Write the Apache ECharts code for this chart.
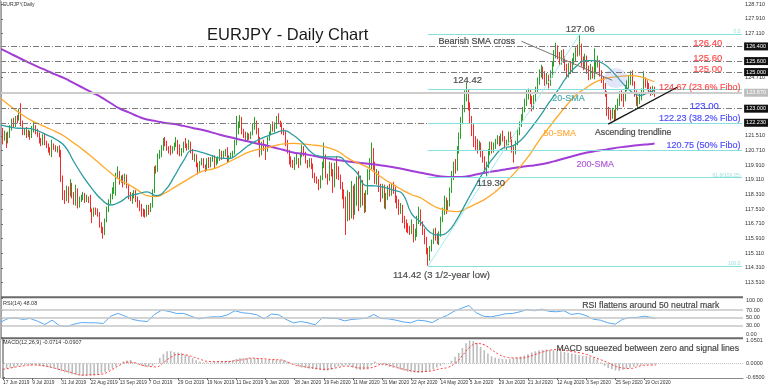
<!DOCTYPE html>
<html><head><meta charset="utf-8">
<script src="https://cdn.jsdelivr.net/npm/echarts@6/dist/echarts.min.js"></script>
<style>html,body{margin:0;padding:0;background:#fff}#c{width:768px;height:389px}</style>
</head><body><div id="c"></div>
<script>
// ================= DATA =================
// daily bars, index 0 = 17 Jun 2019 ; rows are [open, close, low, high]
const candles = [
[121.85,121.75,121.55,122.05],[121.75,121.40,121.05,121.95],[121.40,121.55,121.25,121.80],[121.55,121.20,120.85,121.70],[121.20,121.50,121.10,121.75],
[121.50,121.95,121.40,122.10],[121.95,122.30,121.80,122.45],[122.30,122.15,121.95,122.50],[122.15,122.45,122.00,122.60],[122.45,122.35,122.20,122.65],
[122.45,122.85,122.35,123.00],[122.85,122.20,122.05,123.30],[122.20,121.70,121.55,122.35],[121.70,121.85,121.55,121.95],[121.85,121.60,121.40,122.00],
[121.60,121.70,121.45,121.85],[121.70,121.45,121.30,121.80],[121.45,121.80,121.40,122.05],[121.80,121.95,121.70,122.30],[121.95,121.75,121.60,122.10],
[121.75,121.55,121.45,121.90],[121.55,121.25,121.10,121.70],[121.25,121.10,120.95,121.40],[121.10,121.45,121.00,121.60],[121.45,121.15,121.00,121.65],
[121.15,121.00,120.85,121.25],[121.00,120.75,120.60,121.10],[120.75,120.55,120.45,120.90],[120.55,120.95,120.35,121.30],[120.95,120.90,120.75,121.10],
[120.90,120.75,120.65,121.00],[120.75,120.80,120.60,120.95],[120.80,120.60,120.35,121.00],[120.60,119.20,119.00,120.75],[119.20,118.40,118.00,119.35],
[118.40,118.10,117.80,118.55],[118.10,118.55,117.95,118.80],[118.55,118.30,117.85,118.75],[118.30,118.85,118.20,119.15],[118.85,118.35,118.10,118.95],
[118.35,117.95,117.75,118.45],[117.95,118.55,117.70,118.85],[118.55,117.80,117.55,118.65],[117.80,118.00,117.60,118.20],[118.00,118.10,117.90,118.30],
[118.10,118.30,118.00,118.45],[118.30,118.00,117.85,118.40],[118.00,118.10,117.90,118.30],[118.10,118.05,117.85,118.20],[118.05,117.55,117.35,118.30],
[117.55,117.25,116.75,117.55],[117.25,117.45,117.10,117.60],[117.45,117.40,117.20,117.60],[117.40,117.25,117.10,117.55],[117.25,116.70,116.50,117.35],
[116.70,116.40,116.20,116.80],[116.40,116.25,115.90,116.55],[116.25,116.90,116.10,117.00],[116.90,117.50,116.80,117.65],[117.50,117.90,117.35,118.05],
[117.90,118.20,117.80,118.35],[118.20,118.55,118.05,118.70],[118.55,118.80,118.35,119.00],[118.80,119.35,118.25,119.50],[119.35,119.50,119.20,119.85],
[119.50,119.00,118.85,119.60],[119.00,119.20,118.95,119.35],[119.20,118.95,118.70,119.40],[118.95,119.30,118.85,119.45],[119.30,118.80,118.65,119.40],
[118.80,118.25,118.05,118.90],[118.25,118.10,117.95,118.45],[118.10,118.25,117.80,118.40],[118.25,118.40,118.10,118.55],[118.40,118.10,117.90,118.55],
[118.10,117.80,117.60,118.20],[117.80,117.60,117.40,118.00],[117.60,117.35,117.10,117.80],[117.35,117.30,117.10,117.55],[117.30,117.20,117.05,117.50],
[117.20,117.60,117.10,117.75],[117.60,117.45,117.20,117.75],[117.45,117.70,117.35,117.85],[117.70,118.50,117.60,118.60],[118.50,119.75,118.40,119.85],
[119.75,119.60,119.45,119.90],[119.60,120.40,119.55,120.55],[120.40,120.55,120.25,120.75],[120.55,120.85,120.35,121.00],[120.85,121.25,120.70,121.40],
[121.25,121.10,120.95,121.45],[121.10,120.80,120.70,121.25],[120.80,120.75,120.55,120.95],[120.75,120.65,120.45,121.00],[120.65,120.80,120.55,120.95],
[120.80,121.00,120.70,121.15],[121.00,121.25,120.90,121.45],[121.25,120.95,120.50,121.30],[120.95,120.55,120.40,121.05],[120.55,120.70,120.40,120.85],
[120.70,121.10,120.60,121.20],[121.10,120.95,120.85,121.40],[120.95,120.85,120.70,121.10],[120.85,121.15,120.75,121.30],[121.15,120.70,120.55,121.20],
[120.70,120.35,120.20,120.80],[120.35,120.40,120.10,120.55],[120.40,119.95,119.80,120.50],[119.95,119.60,119.40,120.05],[119.60,120.05,119.55,120.15],
[120.05,120.15,119.90,120.30],[120.15,119.85,119.75,120.30],[119.85,119.70,119.55,119.95],[119.70,120.20,119.60,120.30],[120.20,119.90,119.75,120.35],
[119.90,120.20,119.80,120.35],[120.20,120.35,120.10,120.45],[120.35,119.95,119.75,120.45],[119.95,120.15,119.90,120.30],[120.15,120.25,120.00,120.40],
[120.25,120.55,120.15,120.80],[120.55,120.35,120.20,120.70],[120.35,120.55,120.30,120.70],[120.55,120.65,120.40,120.80],[120.65,120.20,120.05,120.90],
[120.20,120.30,120.10,120.45],[120.30,120.45,120.25,120.60],[120.45,120.55,120.35,120.70],[120.55,121.10,120.50,121.30],[121.10,121.75,121.00,122.60],
[121.75,122.10,121.60,122.30],[122.10,122.45,121.95,122.65],[122.45,121.75,121.60,122.55],[121.75,121.55,121.40,121.90],[121.55,121.35,121.20,121.75],
[121.35,121.55,121.25,121.70],[121.55,121.40,121.30,121.65],[121.40,121.60,121.35,121.75],[121.60,122.10,121.55,122.20],[122.10,122.30,121.85,122.55],
[122.30,121.75,121.60,122.35],[121.75,121.35,121.10,121.95],[121.35,120.60,120.35,121.45],[120.60,121.10,120.45,121.20],[121.10,120.85,120.70,121.30],
[120.85,120.75,120.20,121.05],[120.75,121.35,120.65,121.45],[121.35,121.60,121.25,121.75],[121.60,122.05,121.55,122.15],[122.05,121.90,121.75,122.30],
[121.90,122.10,121.70,122.25],[122.10,122.45,121.90,122.60],[122.45,122.30,122.15,122.75],[122.30,122.15,122.00,122.35],[122.15,121.85,121.60,122.25],
[121.85,121.70,121.55,121.95],[121.70,121.20,120.95,121.80],[121.20,120.70,120.55,121.30],[120.70,120.10,119.95,120.75],[120.10,120.05,119.80,120.40],
[120.05,119.90,119.75,120.20],[119.90,120.20,119.65,120.35],[120.20,120.25,119.95,120.55],[120.25,120.00,119.75,120.30],[120.00,120.45,119.90,120.60],
[120.45,120.80,120.35,121.05],[120.80,120.55,120.40,120.95],[120.55,120.15,120.00,120.65],[120.15,119.90,119.75,120.20],[119.90,120.15,119.80,120.30],
[120.15,119.85,119.70,120.30],[119.85,119.40,119.20,120.00],[119.40,119.20,118.95,119.50],[119.20,119.05,118.90,119.30],[119.05,118.70,118.55,119.15],
[118.70,119.20,118.65,119.35],[119.20,119.90,119.10,120.10],[119.90,120.40,119.75,121.15],[120.40,119.35,119.20,120.50],[119.35,119.15,118.85,119.45],
[119.15,119.80,119.05,120.10],[119.80,119.60,119.30,120.05],[119.60,118.85,118.40,119.70],[118.85,119.75,118.70,120.05],[119.75,119.70,119.15,120.40],
[119.70,119.25,119.10,119.85],[119.25,118.80,118.60,119.40],[118.80,118.50,118.05,119.00],[118.50,118.00,117.55,118.60],[118.00,117.20,116.10,118.20],
[117.20,118.10,116.85,118.55],[118.10,117.15,116.90,118.45],[117.15,118.65,117.00,119.05],[118.65,117.50,116.95,118.80],[117.50,118.35,117.20,118.90],
[118.35,118.90,117.70,119.30],[118.90,118.00,117.40,119.60],[118.00,118.85,117.60,119.35],[118.85,118.20,117.70,119.10],[118.20,117.55,117.30,118.40],
[117.55,118.40,117.35,118.55],[118.40,119.50,118.30,119.70],[119.50,119.95,119.10,120.30],[119.95,120.55,119.70,121.15],[120.55,119.90,119.65,120.85],
[119.90,119.10,118.90,120.10],[119.10,119.45,118.85,119.70],[119.45,118.75,118.45,119.60],[118.75,118.30,117.90,118.90],[118.30,118.70,118.10,118.90],
[118.70,117.75,117.55,118.85],[117.75,118.15,117.50,118.40],[118.15,118.65,118.00,118.80],[118.65,118.40,118.20,118.90],[118.40,118.75,118.25,118.95],
[118.75,118.55,118.35,119.00],[118.55,118.05,117.85,118.75],[118.05,117.80,117.55,118.25],[117.80,117.50,117.20,118.05],[117.50,117.60,117.25,117.85],
[117.60,116.95,116.75,117.75],[116.95,116.65,116.45,117.15],[116.65,116.55,116.25,116.95],[116.55,116.45,116.20,116.75],[116.45,116.35,116.10,116.60],
[116.35,116.60,116.15,116.95],[116.60,115.95,115.70,116.70],[115.95,116.15,115.80,116.45],[116.15,116.85,116.00,117.15],[116.85,117.40,116.70,117.65],
[117.40,116.75,116.60,117.50],[116.75,116.35,116.10,116.85],[116.35,115.85,115.60,116.45],[115.85,115.25,115.05,116.00],[115.25,114.85,114.42,115.40],
[114.85,115.35,114.70,115.50],[115.35,115.75,115.20,115.85],[115.75,116.25,115.60,116.45],[116.25,116.05,115.80,116.50],[116.05,115.75,115.60,116.20],
[115.75,116.10,115.55,116.30],[116.10,116.95,116.00,117.10],[116.95,117.40,116.80,117.60],[117.40,117.95,117.20,118.25],[117.95,117.65,117.25,118.15],
[117.65,117.80,117.40,118.00],[117.80,118.55,117.65,118.70],[118.55,119.45,118.40,119.60],[119.45,119.90,119.10,120.10],[119.90,119.70,119.45,120.25],
[119.70,120.75,119.60,120.95],[120.75,121.55,120.55,121.70],[121.55,122.40,121.35,122.55],[122.40,122.90,122.15,123.20],[122.90,123.80,122.80,124.00],
[123.80,123.95,123.40,124.42],[123.95,123.20,122.90,124.05],[123.20,122.45,122.20,123.35],[122.45,121.85,121.50,122.60],[121.85,121.35,120.90,122.15],
[121.35,121.00,120.75,121.50],[121.00,120.85,120.55,121.35],[120.85,121.05,120.70,121.25],[121.05,120.55,120.35,121.15],[120.55,120.30,120.05,120.75],
[120.30,119.70,119.45,120.40],[119.70,119.85,119.30,120.10],[119.85,120.65,119.75,120.80],[120.65,121.05,120.45,121.20],[121.05,120.75,120.55,121.20],
[120.75,120.95,120.60,121.15],[120.95,121.20,120.80,121.35],[121.20,121.35,121.05,121.55],[121.35,121.15,120.95,121.50],[121.15,121.50,121.00,121.65],
[121.50,121.35,121.20,121.80],[121.35,120.95,120.80,121.50],[120.95,121.10,120.75,121.30],[121.10,121.55,121.00,121.75],[121.55,121.35,121.20,121.75],
[121.35,120.85,120.60,121.45],[120.85,120.65,120.05,120.95],[120.65,121.10,120.50,121.25],[121.10,121.75,121.00,121.90],[121.75,122.10,121.55,122.30],
[122.10,122.50,122.00,122.70],[122.50,122.95,122.35,123.10],[122.95,123.30,122.80,123.55],[123.30,123.70,123.15,124.00],[123.70,123.95,123.50,124.10],
[123.95,123.45,123.25,124.05],[123.45,123.05,122.85,123.70],[123.05,123.50,122.95,123.75],[123.50,124.00,123.35,124.20],[124.00,124.45,123.85,124.70],
[124.45,124.90,124.30,125.15],[124.90,125.15,124.70,125.40],[125.15,124.85,124.60,125.30],[124.85,124.45,124.25,125.05],[124.45,124.70,124.30,124.95],
[124.70,124.35,124.10,124.85],[124.35,124.85,124.25,125.10],[124.85,125.40,124.70,125.55],[125.40,126.00,125.30,126.20],[126.00,126.35,125.75,126.60],
[126.35,125.90,125.70,126.45],[125.90,125.60,125.35,126.10],[125.60,125.95,125.40,126.20],[125.95,125.70,125.50,126.25],[125.70,125.30,125.05,125.85],
[125.30,124.85,124.65,125.45],[124.85,125.35,124.70,125.50],[125.35,125.10,124.90,125.60],[125.10,125.55,124.95,125.75],[125.55,125.85,125.40,126.05],
[125.85,126.20,125.60,126.35],[126.20,126.05,125.85,126.50],[126.05,126.40,125.90,127.06],[126.40,125.55,125.30,126.55],[125.55,125.30,125.10,125.85],
[125.30,125.75,125.15,126.00],[125.75,125.20,124.90,125.90],[125.20,124.80,124.55,125.35],[124.80,125.20,124.60,125.45],[125.20,124.85,124.65,125.30],
[124.85,125.10,124.60,126.30],[125.10,125.45,124.95,125.65],[125.45,125.55,125.25,125.90],[125.55,124.95,124.75,125.65],[124.95,124.60,124.40,125.10],
[124.60,124.25,124.05,124.75],[124.25,123.85,123.65,124.40],[123.85,122.90,122.60,123.95],[122.90,122.75,122.40,123.10],[122.75,122.60,122.35,122.95],
[122.60,122.85,122.45,123.05],[122.85,122.45,122.35,122.95],[122.45,123.05,122.40,123.20],[123.05,123.35,122.90,123.55],[123.35,123.85,123.15,123.95],
[123.85,123.60,123.40,124.00],[123.60,123.50,123.10,123.80],[123.50,124.15,123.40,124.30],[124.15,124.35,123.95,124.55],[124.35,124.45,124.10,124.85],
[124.45,124.85,124.30,125.05],[124.85,124.40,124.25,125.10],[124.40,123.85,123.65,124.50],[123.85,123.40,123.15,124.00],[123.40,123.45,123.00,123.65],
[123.45,123.55,123.25,123.80],[123.55,123.90,123.45,124.10],[123.90,124.60,123.75,125.05],[124.60,124.35,124.15,124.70],[124.35,124.25,124.00,124.55],
[124.25,124.05,123.85,124.40],[124.05,123.95,123.70,124.20],[123.95,124.05,123.75,124.25],[124.05,123.87,123.65,124.20]
];
// moving averages read every 5th bar (last value = last bar)
const sma20 = [122.10,122.00,121.93,121.92,121.80,121.57,121.33,120.95,120.10,119.30,
 118.62,118.05,117.74,117.90,118.22,118.35,118.46,118.25,118.55,119.30,
 120.15,120.72,120.62,120.45,120.30,120.28,120.55,120.95,121.25,121.47,
 121.66,121.80,121.56,121.15,120.62,120.40,120.37,120.37,119.95,119.50,
 118.80,118.78,118.70,118.55,118.35,117.25,116.80,116.25,116.10,116.30,
 117.00,117.90,118.80,119.65,120.35,120.85,120.95,121.30,121.90,122.55,
 123.30,124.00,124.75,125.30,125.62,125.62,125.45,125.02,124.45,123.95,
 123.72,123.90,124.00];
const sma50 = [123.55,123.15,122.78,122.45,122.20,121.97,121.75,121.48,121.12,120.75,
 120.35,119.93,119.50,119.12,118.85,118.55,118.25,118.20,118.40,118.70,
 119.00,119.30,119.58,119.68,119.85,120.10,120.35,120.60,120.75,120.85,
 120.98,121.08,121.10,121.08,121.02,120.97,120.85,120.65,120.30,120.05,
 119.85,119.50,119.15,118.85,118.55,118.30,118.12,117.80,117.55,117.42,
 117.38,117.55,117.80,118.05,118.40,118.85,119.35,119.90,120.55,121.30,
 121.95,122.60,123.20,123.75,124.10,124.42,124.62,124.72,124.78,124.80,
 124.75,124.58,124.47];
const sma200 = [126.27,126.02,125.77,125.53,125.30,125.08,124.86,124.65,124.39,124.14,
 123.88,123.62,123.31,123.01,122.80,122.58,122.41,122.32,122.22,122.16,
 122.06,121.95,121.85,121.72,121.58,121.45,121.33,121.22,121.10,121.00,
 120.87,120.74,120.61,120.54,120.45,120.35,120.26,120.18,120.12,120.06,
 120.00,119.95,119.88,119.80,119.71,119.60,119.50,119.40,119.31,119.27,
 119.27,119.30,119.40,119.50,119.58,119.66,119.75,119.82,119.88,119.95,
 120.05,120.18,120.32,120.46,120.58,120.68,120.75,120.83,120.90,120.96,
 121.02,121.06,121.10];
// RSI(14) read every 4th bar (last value = last bar)
const rsi = [39.7,48.4,50,46,48.4,41.5,33,44,30,28,
 33.8,38,37.4,37.4,35.6,54.3,61.3,54.3,46,42.4,
 40.6,58.6,69.7,66.3,61.3,61.3,54.3,47.5,51,52.6,
 52.6,57.8,68,62.9,61.3,57.8,47.5,59.6,57.8,46,
 37.4,40.6,37.4,32.2,51,49.2,48.4,42.4,46,47.5,
 49.2,58.6,48.4,47.5,44.1,39.7,37.4,44,42.4,38,
 48.4,56,67,74.5,81.5,63,54.3,52.6,56,60.4,
 61.3,65.5,71.3,68,72.2,66.3,65.5,68,58.6,61.3,
 56,46.7,44,37.4,33.8,46,51,51,54.3,51,
 48.1];
// MACD(12,26,9) main line read every 2nd bar
const macdMain = [-0.24,-0.23,-0.21,-0.19,-0.14,-0.10,-0.08,-0.08,-0.08,-0.09,
 -0.12,-0.15,-0.18,-0.22,-0.25,-0.30,-0.36,-0.42,-0.47,-0.51,
 -0.54,-0.57,-0.58,-0.58,-0.57,-0.56,-0.52,-0.47,-0.42,-0.32,
 -0.24,-0.14,-0.02,0.08,0.13,0.15,0.05,-0.05,-0.12,-0.16,
 -0.16,-0.12,-0.02,0.25,0.42,0.55,0.56,0.52,0.50,0.47,
 0.40,0.34,0.24,0.14,0.08,0.04,0.03,0.04,0.06,0.07,
 0.08,0.09,0.12,0.15,0.20,0.24,0.24,0.24,0.24,0.24,
 0.22,0.19,0.16,0.16,0.16,0.16,0.16,0.14,0.08,0.01,
 -0.06,-0.14,-0.19,-0.22,-0.25,-0.27,-0.29,-0.31,-0.33,-0.34,
 -0.30,-0.19,-0.15,-0.12,-0.09,-0.10,-0.19,-0.28,-0.31,-0.30,
 -0.28,-0.10,0.08,-0.03,-0.09,-0.12,-0.17,-0.21,-0.24,-0.30,
 -0.34,-0.39,-0.41,-0.43,-0.44,-0.43,-0.38,-0.33,-0.28,-0.20,
 -0.12,-0.04,0.00,0.12,0.30,0.48,0.70,0.92,1.05,1.02,
 0.95,0.75,0.60,0.45,0.32,0.25,0.21,0.19,0.19,0.21,
 0.24,0.28,0.31,0.36,0.42,0.50,0.55,0.60,0.62,0.63,
 0.62,0.60,0.58,0.55,0.52,0.48,0.45,0.42,0.38,0.35,
 0.33,0.30,0.26,0.18,0.05,-0.12,-0.22,-0.28,-0.33,-0.34,
 -0.30,-0.25,-0.21,-0.16,-0.12,-0.09,-0.05,-0.03,-0.04,-0.07];
// MACD signal read every 4th bar (last value = last bar)
const macdSignal = [-0.28,-0.22,-0.16,-0.11,-0.08,-0.09,-0.14,-0.22,-0.31,-0.39,
 -0.49,-0.55,-0.53,-0.52,-0.46,-0.28,-0.09,0.05,0.03,-0.08,
 -0.14,-0.17,0.03,0.27,0.41,0.39,0.30,0.19,0.09,0.08,
 0.08,0.08,0.13,0.17,0.24,0.22,0.20,0.17,0.16,0.06,
 -0.08,-0.14,-0.19,-0.24,-0.28,-0.25,-0.19,-0.13,-0.16,-0.22,
 -0.22,-0.16,-0.03,-0.09,-0.19,-0.28,-0.35,-0.39,-0.38,-0.33,
 -0.25,-0.19,0.00,0.35,0.74,0.91,0.85,0.63,0.41,0.28,
 0.25,0.24,0.30,0.41,0.52,0.60,0.63,0.60,0.55,0.49,
 0.41,0.28,0.16,0.02,-0.14,-0.22,-0.24,-0.16,-0.09,-0.08,
 -0.09];
// x-axis date labels (every 16 bars)
const dateLabels = ['17 Jun 2019','9 Jul 2019','31 Jul 2019','22 Aug 2019','13 Sep 2019','7 Oct 2019','29 Oct 2019',
 '19 Nov 2019','11 Dec 2019','6 Jan 2020','28 Jan 2020','19 Feb 2020','11 Mar 2020','31 Mar 2020','22 Apr 2020',
 '14 May 2020','5 Jun 2020','29 Jun 2020','21 Jul 2020','12 Aug 2020','3 Sep 2020','25 Sep 2020','19 Oct 2020'];
const priceTicks = [113.51,114.31,115.11,115.91,116.71,117.51,118.31,119.11,119.91,120.71,121.51,124.71,127.11,127.91,128.71];
const rsiTicks = [0,30,50,70,100];
const macdTicks = [-0.65,0,1.0501];
const hLevels = [126.40,125.60,125.00,123.00,122.23];   // dash-dot support/resistance
const lastPrice = 123.87;
const fiboRatios = [0,0.236,0.382,0.5,0.618,1];
const trendline = [[332.6,122.16],[370.4,124.17]];   // ascending trendline anchors [bar, price]
const crossLeader = [[285.1,126.68],[334.8,124.55]];  // "Bearish SMA cross" pointer
const crossSpot = [336.8,124.67];

// ================= CHART =================
const FONT = '"Liberation Sans", Arial, sans-serif';
const LAST = candles.length - 1;
const XMIN = -0.5, XMAX = 405.95;
const sampled = (arr, step) => arr.map((v, k) => [k === arr.length - 1 ? LAST : k * step, v]);

// fibonacci swing from the data
let loI = 200, hiI = 200;
for (let i = 200; i < candles.length; i++) {
  if (candles[i][2] < candles[loI][2]) loI = i;
  if (candles[i][3] > candles[hiI][3]) hiI = i;
}
const fLo = candles[loI][2], fHi = candles[hiI][3];
const fiboLevels = fiboRatios.map(r => +(fHi - (fHi - fLo) * r).toFixed(2));

const RED = '#ff2a2a', BLUE = '#2c2cff', DARK = '#1e1e1e';
const notes = [
  {p:[317.3,127.35], t:fHi.toFixed(2), c:'#2a2a2a', a:'center', s:9.5},
  {p:[239.7,126.69], t:'Bearish SMA cross', c:DARK, a:'left', s:9},
  {p:[255.5,124.56], t:'124.42', c:'#2a2a2a', a:'center', s:9.5},
  {p:[387.1,126.57], t:'126.40', c:RED, a:'center', s:9.5},
  {p:[387.1,125.75], t:'125.60', c:RED, a:'center', s:9.5},
  {p:[387.1,125.15], t:'125.00', c:RED, a:'center', s:9.5},
  {p:[405.1,124.17], t:'124.67 (23.6% Fibo)', c:RED, a:'right', s:9},
  {p:[385.2,123.14], t:'123.00', c:BLUE, a:'center', s:9.5},
  {p:[405.1,122.47], t:fiboLevels[2].toFixed(2)+' (38.2% Fibo)', c:BLUE, a:'right', s:9},
  {p:[346.3,121.69], t:'Ascending trendline', c:DARK, a:'center', s:8.7},
  {p:[405.1,121.01], t:'120.75 (50% Fibo)', c:BLUE, a:'right', s:9},
  {p:[325.5,119.96], t:'200-SMA', c:'#a03fd0', a:'center', s:9},
  {p:[306.1,121.62], t:'50-SMA', c:'#ff9f1a', a:'center', s:9},
  {p:[310.8,123.53], t:'20-SMA', c:'#2a9a9c', a:'center', s:9},
  {p:[268.4,118.92], t:'119.30', c:'#2a2a2a', a:'center', s:9.5},
  {p:[241.3,113.88], t:'114.42 (3 1/2-year low)', c:'#2a2a2a', a:'center', s:9.5},
  {p:[405.1,fiboLevels[0]+0.13], t:'0.0', c:'#7fd8d8', a:'right', s:5, thin:true},
  {p:[405.1,fiboLevels[4]+0.08], t:'61.8('+fiboLevels[4].toFixed(2)+')', c:'#7fd8d8', a:'right', s:5, thin:true},
  {p:[405.1,fiboLevels[5]+0.1], t:'100.0', c:'#7fd8d8', a:'right', s:5, thin:true}
];
const noteData = (list) => list.map(n => ({value:n.p, label:{show:true, position:'inside', formatter:n.t, color:n.c, align:n.a,
  verticalAlign:'middle', fontSize:n.s, fontFamily:FONT, textBorderWidth:n.thin ? 0 : 0.2, textBorderColor:n.c, textShadowBlur:0}}));
const noteSeries = (xi, list) => ({type:'scatter', xAxisIndex:xi, yAxisIndex:xi, symbol:'circle', symbolSize:1,
  itemStyle:{color:'rgba(255,255,255,0)'}, z:6, silent:true, labelLayout:{hideOverlap:false}, data:noteData(list)});

const boxLabel = (txt, bg) => ({show:true, position:'end', formatter:txt, backgroundColor:bg, color:'#fff', fontSize:5.5, padding:[1,2,1,2], distance:2, fontFamily:FONT});
const cyan = {color:'#86e0e0', width:1, type:'solid'};

const markData = [];
hLevels.forEach(v => markData.push({yAxis:v, lineStyle:{color:'#7a7a7a', width:1, type:[6,2,1,2]}, label:boxLabel(v.toFixed(3), '#111')}));
markData.push({yAxis:lastPrice, lineStyle:{color:'#cdcdcd', width:2, type:'solid'}, label:boxLabel(lastPrice.toFixed(3), '#bdbdbd')});
fiboLevels.forEach(v => markData.push([{coord:[loI, v], lineStyle:cyan, label:{show:false}}, {coord:[XMAX, v]}]));
markData.push([{coord:[loI, fLo], lineStyle:{color:'#a6ecec', width:1, type:'solid'}, label:{show:false}}, {coord:[hiI, fHi]}]);
markData.push([{coord:trendline[0], lineStyle:{color:'#111', width:1.3, type:'solid'}, label:{show:false}}, {coord:trendline[1]}]);
markData.push([{coord:crossLeader[0], lineStyle:{color:'#777', width:1, type:'solid'}, label:{show:false}}, {coord:crossLeader[1]}]);

const tickIdx = dateLabels.map((d, k) => k * 16);
const axisLab = {fontSize:5.5, color:'#333', fontFamily:FONT, margin:3};

const option = {
  animation:false,
  backgroundColor:'#fff',
  textStyle:{fontFamily:FONT},
  title:[
    {text:'EURJPY - Daily Chart', left:207, top:27, padding:0, textStyle:{fontSize:16.5, fontWeight:'normal', color:'#1a1a1a', fontFamily:FONT}},
    {text:'EURJPY,Daily', left:3, top:2, padding:0, textStyle:{fontSize:5, fontWeight:'normal', color:'#333', fontFamily:FONT}},
    {text:'RSI(14) 48.08', left:3, top:300, padding:0, textStyle:{fontSize:5.5, fontWeight:'normal', color:'#333', fontFamily:FONT}},
    {text:'MACD(12,26,9) -0.0714 -0.0907', left:3, top:339.5, padding:0, textStyle:{fontSize:5.5, fontWeight:'normal', color:'#333', fontFamily:FONT}}
  ],
  grid:[
    {left:0, right:25, top:2, height:294},
    {left:0, right:25, top:298.2, height:39.3},
    {left:0, right:25, top:339, height:39}
  ],
  xAxis:[
    {type:'value', gridIndex:0, min:XMIN, max:XMAX, show:false},
    {type:'value', gridIndex:1, min:XMIN, max:XMAX, show:false},
    {type:'value', gridIndex:2, min:XMIN, max:XMAX, splitLine:{show:false},
     axisLine:{show:true, onZero:false, lineStyle:{color:'#8a8a8a', width:1}},
     axisTick:{show:true, customValues:tickIdx, length:2, lineStyle:{color:'#666'}},
     axisLabel:{customValues:tickIdx, align:'left', showMinLabel:true, hideOverlap:false, formatter:v => dateLabels[Math.round(v / 16)],
       fontSize:4.8, color:'#333', fontFamily:FONT, margin:2}}
  ],
  yAxis:[
    {type:'value', gridIndex:0, position:'right', min:112.77, max:128.826, splitLine:{show:false},
     axisLine:{show:true, lineStyle:{color:'#a0a0a0', width:2}},
     axisTick:{show:true, customValues:priceTicks, length:2, lineStyle:{color:'#666'}},
     axisLabel:Object.assign({customValues:priceTicks, formatter:v => v.toFixed(3)}, axisLab)},
    {type:'value', gridIndex:1, position:'right', min:0, max:100, splitLine:{show:false},
     axisLine:{show:true, lineStyle:{color:'#a0a0a0', width:2}},
     axisTick:{show:true, customValues:rsiTicks, length:2, lineStyle:{color:'#666'}},
     axisLabel:Object.assign({customValues:rsiTicks,
       formatter:v => v === 100 ? '{t|100.00}' : (v === 0 ? '{b|0.00}' : v.toFixed(2)),
       rich:{t:{padding:[4,0,0,0], fontSize:5.5}, b:{padding:[0,0,7,0], fontSize:5.5}}}, axisLab)},
    {type:'value', gridIndex:2, position:'right', min:-0.68, max:1.12, splitLine:{show:false},
     axisLine:{show:true, lineStyle:{color:'#a0a0a0', width:2}},
     axisTick:{show:true, customValues:macdTicks, length:2, lineStyle:{color:'#666'}},
     axisLabel:Object.assign({customValues:macdTicks, formatter:v => v.toFixed(4)}, axisLab)}
  ],
  graphic:[
    {type:'line', silent:true, shape:{x1:0, y1:297.3, x2:743, y2:297.3}, style:{stroke:'#6a6a6a', lineWidth:2}, z:100},
    {type:'line', silent:true, shape:{x1:0, y1:338.2, x2:743, y2:338.2}, style:{stroke:'#6a6a6a', lineWidth:2}, z:100},
    {type:'line', silent:true, shape:{x1:0.5, y1:0, x2:0.5, y2:378}, style:{stroke:'#b0b0b0', lineWidth:1}, z:100}
  ],
  series:[
    {type:'candlestick', name:'EURJPY', xAxisIndex:0, yAxisIndex:0, barWidth:1.3, z:2,
     data:candles.map((r, i) => [i, r[0], r[1], r[2], r[3]]), encode:{x:0, y:[1,2,3,4]},
     itemStyle:{color:'#2aa02a', color0:'#f52a2a', borderColor:'#2aa02a', borderColor0:'#f52a2a', borderWidth:1},
     markLine:{silent:true, symbol:['none','none'], animation:false, precision:2, data:markData}},
    {type:'line', name:'200-SMA', xAxisIndex:0, yAxisIndex:0, data:sampled(sma200, 5), smooth:true, showSymbol:false, lineStyle:{color:'#a23dd6', width:2}, z:3},
    {type:'line', name:'50-SMA', xAxisIndex:0, yAxisIndex:0, data:sampled(sma50, 5), smooth:true, showSymbol:false, lineStyle:{color:'#ffa82a', width:1.3}, z:3},
    {type:'line', name:'20-SMA', xAxisIndex:0, yAxisIndex:0, data:sampled(sma20, 5), smooth:true, showSymbol:false, lineStyle:{color:'#2c9c9f', width:1.3}, z:3},
    {type:'scatter', name:'cross', xAxisIndex:0, yAxisIndex:0, data:[crossSpot], symbol:'circle', symbolSize:[23,20], itemStyle:{color:'rgba(140,165,230,0.33)'}, z:4, silent:true},
    noteSeries(0, notes),
    {type:'line', name:'RSI', xAxisIndex:1, yAxisIndex:1, data:sampled(rsi, 4), showSymbol:false, lineStyle:{color:'#5aa8f0', width:1}, z:3,
     markLine:{silent:true, symbol:['none','none'], label:{show:false}, data:[70,50,30].map(v => ({yAxis:v, lineStyle:{color:'#c6c6c6', width:1.5, type:'solid'}}))}},
    noteSeries(1, [{p:[355.5,80.3], t:'RSI flattens around 50 neutral mark', c:DARK, a:'center', s:8.7}]),
    {type:'bar', name:'MACD', xAxisIndex:2, yAxisIndex:2, data:sampled(macdMain, 2), barWidth:1.6, itemStyle:{color:'#bcbcbc'}, z:2,
     markLine:{silent:true, symbol:['none','none'], label:{show:false}, data:[{yAxis:0, lineStyle:{color:'#c0c0c0', width:1, type:'dotted'}}]}},
    {type:'line', name:'Signal', xAxisIndex:2, yAxisIndex:2, data:sampled(macdSignal, 4), smooth:true, showSymbol:false, lineStyle:{color:'#ff3a3a', width:1, type:[2,2]}, z:3},
    noteSeries(2, [{p:[353.7,0.69], t:'MACD squeezed between zero and signal lines', c:DARK, a:'center', s:8.7}])
  ]
};
const chart = echarts.init(document.getElementById('c'), null, {renderer:'canvas'});
chart.setOption(option);
</script>
</body></html>
